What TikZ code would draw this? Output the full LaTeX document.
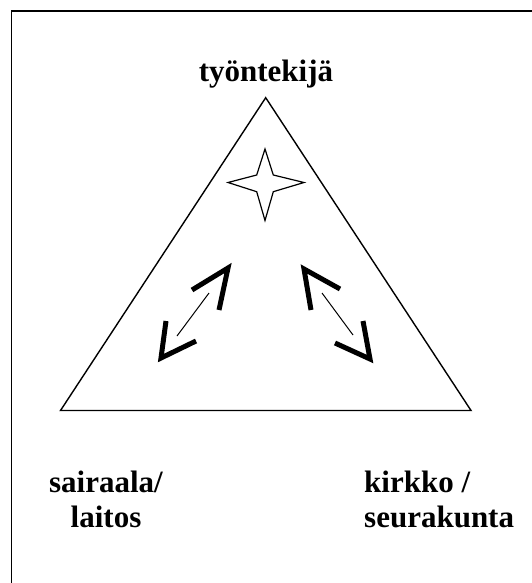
\documentclass[tikz,border=0pt]{standalone}
\usepackage{fontspec}
\setmainfont{Liberation Serif}
\usepackage{tikz}
\usetikzlibrary{positioning}
\newcommand{\chevron}[3]{%
  \draw[headline] (#1) -- (#2) -- (#3);
}

\begin{document}
\begin{tikzpicture}[x=1pt,y=-1pt,
    font=\fontsize{31}{35}\selectfont\bfseries,
    frameline/.style={line width=1.7pt},
    edge/.style={line width=1.4pt,line join=miter},
    headline/.style={line width=5pt,line join=miter,line cap=butt},
    shaft/.style={line width=1pt}]
    \useasboundingbox (0,0) rectangle (532,583);
    \clip (0,0) rectangle (532,583);
    \draw[frameline] (11.5,11) rectangle (545,600);
    % corners of the triangle
    \coordinate (tyo) at (265.7,97.7);
    \coordinate (sai) at (60.5,410.5);
    \coordinate (kir) at (471,410.5);
    \draw[edge] (tyo) -- (kir) -- (sai) -- cycle;
    % labels
    \node[anchor=base] (lbltyo) at (266,82) {työntekijä};
    \node[anchor=base,align=center,inner sep=0pt] (lblsai) at (106,527) {sairaala/\\laitos};
    \node[anchor=base west,align=left,inner sep=0pt] (lblkir) at (364,527) {kirkko /\\seurakunta};
    % star
    \draw[line width=1.2pt,line join=miter] (265,149) -- (273.3,175) -- (304,182.5) -- (273.3,191.7)
      -- (265,220.5) -- (256.7,191.7) -- (228,182.5) -- (256.7,175) -- cycle;
    % left double arrow
    \coordinate (la1) at (209,293);
    \coordinate (la2) at (177,336);
    \draw[shaft] (la1) -- (la2);
    \chevron{192,290}{228,268}{219,310}
    \chevron{166,321}{161,358}{196,341}
    % right double arrow
    \coordinate (ra1) at (322,293);
    \coordinate (ra2) at (353,335);
    \draw[shaft] (ra1) -- (ra2);
    \chevron{340,289}{304,269}{311,310}
    \chevron{363,321}{370,359}{335,343}
  \end{tikzpicture}
\end{document}
